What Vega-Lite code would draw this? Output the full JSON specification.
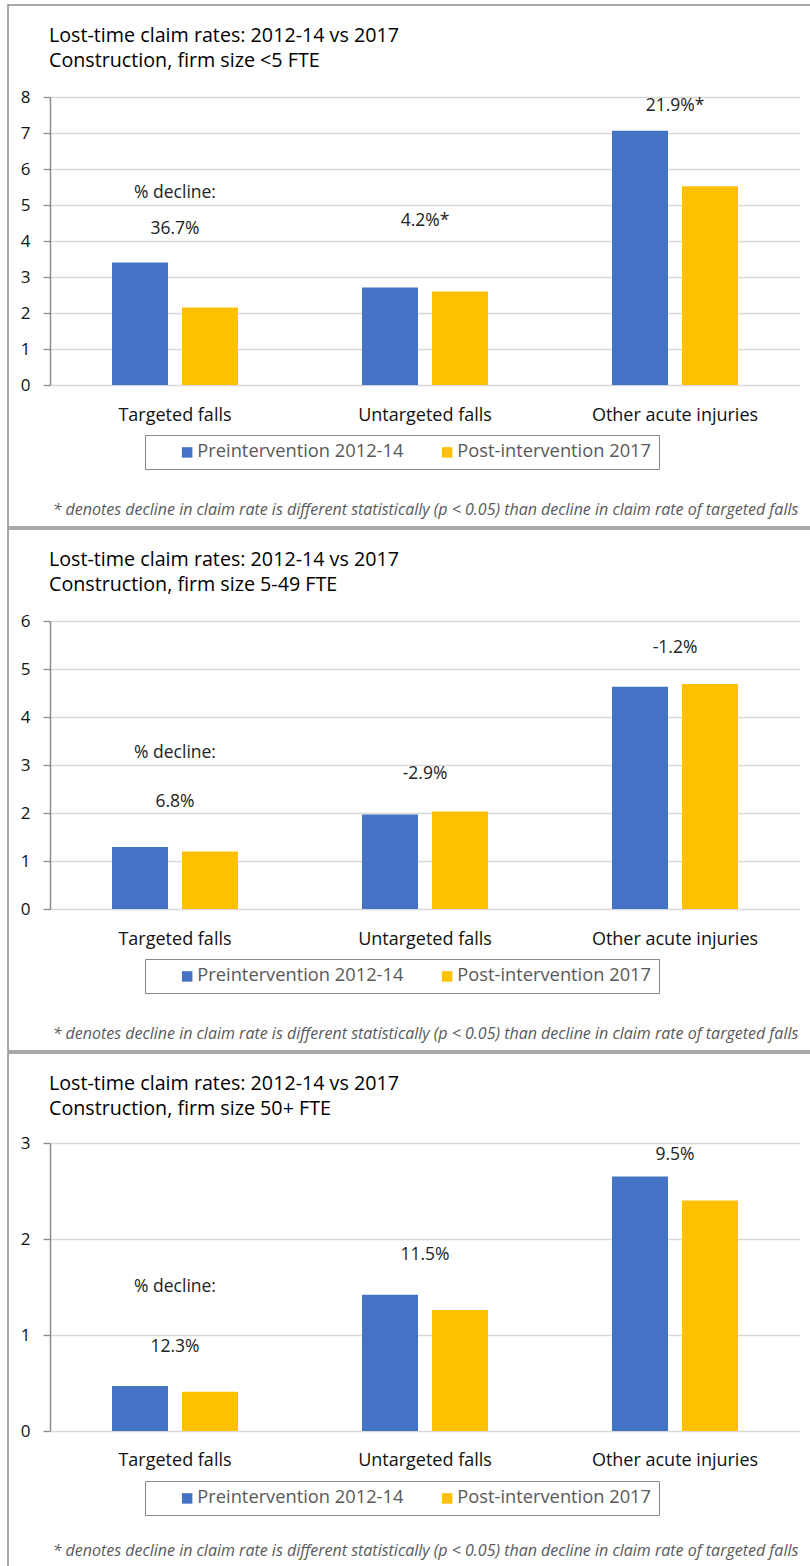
{
  "$schema": "https://vega.github.io/schema/vega-lite/v6.json",
  "background": "white",
  "padding": {"left": 7, "top": 4, "right": 0, "bottom": 0},
  "spacing": 0,
  "config": {
    "view": {"stroke": "#8c8c8c", "strokeWidth": 1.5},
    "axis": {"labelFont": "Open Sans", "titleFont": "Open Sans"},
    "legend": {"labelFont": "Open Sans"},
    "title": {"font": "Open Sans"}
  },
  "datasets": {
    "bars": [
      {"panel": 1, "category": "Targeted falls", "period": "Preintervention 2012-14", "rate": 3.40},
      {"panel": 1, "category": "Targeted falls", "period": "Post-intervention 2017", "rate": 2.15},
      {"panel": 1, "category": "Untargeted falls", "period": "Preintervention 2012-14", "rate": 2.71},
      {"panel": 1, "category": "Untargeted falls", "period": "Post-intervention 2017", "rate": 2.60},
      {"panel": 1, "category": "Other acute injuries", "period": "Preintervention 2012-14", "rate": 7.06},
      {"panel": 1, "category": "Other acute injuries", "period": "Post-intervention 2017", "rate": 5.52},
      {"panel": 2, "category": "Targeted falls", "period": "Preintervention 2012-14", "rate": 1.29},
      {"panel": 2, "category": "Targeted falls", "period": "Post-intervention 2017", "rate": 1.20},
      {"panel": 2, "category": "Untargeted falls", "period": "Preintervention 2012-14", "rate": 1.97},
      {"panel": 2, "category": "Untargeted falls", "period": "Post-intervention 2017", "rate": 2.03},
      {"panel": 2, "category": "Other acute injuries", "period": "Preintervention 2012-14", "rate": 4.63},
      {"panel": 2, "category": "Other acute injuries", "period": "Post-intervention 2017", "rate": 4.69},
      {"panel": 3, "category": "Targeted falls", "period": "Preintervention 2012-14", "rate": 0.47},
      {"panel": 3, "category": "Targeted falls", "period": "Post-intervention 2017", "rate": 0.41},
      {"panel": 3, "category": "Untargeted falls", "period": "Preintervention 2012-14", "rate": 1.42},
      {"panel": 3, "category": "Untargeted falls", "period": "Post-intervention 2017", "rate": 1.26},
      {"panel": 3, "category": "Other acute injuries", "period": "Preintervention 2012-14", "rate": 2.65},
      {"panel": 3, "category": "Other acute injuries", "period": "Post-intervention 2017", "rate": 2.40}
    ],
    "labels": [
      {"panel": 1, "category": "Targeted falls", "label": "% decline:", "rate": 5.34},
      {"panel": 1, "category": "Targeted falls", "label": "36.7%", "rate": 4.33},
      {"panel": 1, "category": "Untargeted falls", "label": "4.2%*", "rate": 4.56},
      {"panel": 1, "category": "Other acute injuries", "label": "21.9%*", "rate": 7.75},
      {"panel": 2, "category": "Targeted falls", "label": "% decline:", "rate": 3.26},
      {"panel": 2, "category": "Targeted falls", "label": "6.8%", "rate": 2.23},
      {"panel": 2, "category": "Untargeted falls", "label": "-2.9%", "rate": 2.81},
      {"panel": 2, "category": "Other acute injuries", "label": "-1.2%", "rate": 5.44},
      {"panel": 3, "category": "Targeted falls", "label": "% decline:", "rate": 1.50},
      {"panel": 3, "category": "Targeted falls", "label": "12.3%", "rate": 0.874},
      {"panel": 3, "category": "Untargeted falls", "label": "11.5%", "rate": 1.83},
      {"panel": 3, "category": "Other acute injuries", "label": "9.5%", "rate": 2.88}
    ]
  },
  "resolve": {
    "scale": {"x": "independent", "y": "independent", "xOffset": "independent", "color": "independent"},
    "axis": {"x": "independent", "y": "independent"},
    "legend": {"color": "independent"}
  },
  "vconcat": [
    {
      "width": 806, "height": 522,
      "title": {"text": ["Lost-time claim rates: 2012-14 vs 2017", "Construction, firm size <5 FTE"], "anchor": "start", "frame": "group", "dx": 41, "offset": -66, "lineHeight": 25, "fontSize": 19.7, "fontWeight": "normal", "color": "#000"},
      "encoding": {
        "x": {"field": "category", "type": "nominal", "title": "* denotes decline in claim rate is different statistically (p < 0.05) than decline in claim rate of targeted falls",
          "scale": {"domain": ["Targeted falls", "Untargeted falls", "Other acute injuries"], "range": [42, 792], "paddingInner": 0, "paddingOuter": 0},
          "axis": {"orient": "bottom", "offset": -143, "domain": false, "ticks": false, "grid": false, "labelAngle": 0, "labelFontSize": 18, "labelColor": "#111", "labelPadding": 22,
            "titleFontSize": 16, "titleFontStyle": "italic", "titleFontWeight": "normal", "titleColor": "#595959", "titlePadding": 77}},
        "y": {"field": "rate", "type": "quantitative", "title": null,
          "scale": {"domain": [0, 8], "range": [380, 92], "nice": false},
          "axis": {"offset": -42, "values": [0, 1, 2, 3, 4, 5, 6, 7, 8], "grid": true, "gridColor": "#d9d9d9", "gridWidth": 1.3, "domain": true, "domainColor": "#8c8c8c", "domainWidth": 1.5, "ticks": true, "tickColor": "#8c8c8c", "tickWidth": 1.3, "tickSize": 7, "labelFontSize": 17, "labelColor": "#111", "labelPadding": 13}}
      },
      "layer": [
        {
          "data": {"name": "bars"},
          "transform": [{"filter": "datum.panel === 1"}],
          "mark": {"type": "bar"},
          "encoding": {
            "xOffset": {"field": "period", "type": "nominal", "scale": {"domain": ["Preintervention 2012-14", "Post-intervention 2017"], "paddingInner": 0.2, "paddingOuter": 0.886}},
            "color": {"field": "period", "type": "nominal",
              "scale": {"domain": ["Preintervention 2012-14", "Post-intervention 2017"], "range": ["#4472C4", "#FFC000"]},
              "legend": {"orient": "none", "legendX": 137, "legendY": 430, "direction": "horizontal", "title": null, "padding": 8, "strokeColor": "#888", "fillColor": "#fff", "symbolType": "square", "symbolSize": 110, "symbolStrokeWidth": 0, "labelFontSize": 18.3, "labelLimit": 400, "labelColor": "#595959", "labelOffset": 1, "columnPadding": 9, "symbolOffset": 25}}
          }
        },
        {
          "data": {"name": "labels"},
          "transform": [{"filter": "datum.panel === 1"}],
          "mark": {"type": "text", "font": "Open Sans", "fontSize": 17.5, "color": "#222", "baseline": "middle", "align": "center"},
          "encoding": {"text": {"field": "label"}}
        }
      ]
    },
    {
      "width": 806, "height": 522,
      "title": {"text": ["Lost-time claim rates: 2012-14 vs 2017", "Construction, firm size 5-49 FTE"], "anchor": "start", "frame": "group", "dx": 41, "offset": -66, "lineHeight": 25, "fontSize": 19.7, "fontWeight": "normal", "color": "#000"},
      "encoding": {
        "x": {"field": "category", "type": "nominal", "title": "* denotes decline in claim rate is different statistically (p < 0.05) than decline in claim rate of targeted falls",
          "scale": {"domain": ["Targeted falls", "Untargeted falls", "Other acute injuries"], "range": [42, 792], "paddingInner": 0, "paddingOuter": 0},
          "axis": {"orient": "bottom", "offset": -143, "domain": false, "ticks": false, "grid": false, "labelAngle": 0, "labelFontSize": 18, "labelColor": "#111", "labelPadding": 22,
            "titleFontSize": 16, "titleFontStyle": "italic", "titleFontWeight": "normal", "titleColor": "#595959", "titlePadding": 77}},
        "y": {"field": "rate", "type": "quantitative", "title": null,
          "scale": {"domain": [0, 6], "range": [380, 92], "nice": false},
          "axis": {"offset": -42, "values": [0, 1, 2, 3, 4, 5, 6], "grid": true, "gridColor": "#d9d9d9", "gridWidth": 1.3, "domain": true, "domainColor": "#8c8c8c", "domainWidth": 1.5, "ticks": true, "tickColor": "#8c8c8c", "tickWidth": 1.3, "tickSize": 7, "labelFontSize": 17, "labelColor": "#111", "labelPadding": 13}}
      },
      "layer": [
        {
          "data": {"name": "bars"},
          "transform": [{"filter": "datum.panel === 2"}],
          "mark": {"type": "bar"},
          "encoding": {
            "xOffset": {"field": "period", "type": "nominal", "scale": {"domain": ["Preintervention 2012-14", "Post-intervention 2017"], "paddingInner": 0.2, "paddingOuter": 0.886}},
            "color": {"field": "period", "type": "nominal",
              "scale": {"domain": ["Preintervention 2012-14", "Post-intervention 2017"], "range": ["#4472C4", "#FFC000"]},
              "legend": {"orient": "none", "legendX": 137, "legendY": 430, "direction": "horizontal", "title": null, "padding": 8, "strokeColor": "#888", "fillColor": "#fff", "symbolType": "square", "symbolSize": 110, "symbolStrokeWidth": 0, "labelFontSize": 18.3, "labelLimit": 400, "labelColor": "#595959", "labelOffset": 1, "columnPadding": 9, "symbolOffset": 25}}
          }
        },
        {
          "data": {"name": "labels"},
          "transform": [{"filter": "datum.panel === 2"}],
          "mark": {"type": "text", "font": "Open Sans", "fontSize": 17.5, "color": "#222", "baseline": "middle", "align": "center"},
          "encoding": {"text": {"field": "label"}}
        }
      ]
    },
    {
      "width": 806, "height": 522,
      "title": {"text": ["Lost-time claim rates: 2012-14 vs 2017", "Construction, firm size 50+ FTE"], "anchor": "start", "frame": "group", "dx": 41, "offset": -66, "lineHeight": 25, "fontSize": 19.7, "fontWeight": "normal", "color": "#000"},
      "encoding": {
        "x": {"field": "category", "type": "nominal", "title": "* denotes decline in claim rate is different statistically (p < 0.05) than decline in claim rate of targeted falls",
          "scale": {"domain": ["Targeted falls", "Untargeted falls", "Other acute injuries"], "range": [42, 792], "paddingInner": 0, "paddingOuter": 0},
          "axis": {"orient": "bottom", "offset": -144, "domain": false, "ticks": false, "grid": false, "labelAngle": 0, "labelFontSize": 18, "labelColor": "#111", "labelPadding": 20,
            "titleFontSize": 16, "titleFontStyle": "italic", "titleFontWeight": "normal", "titleColor": "#595959", "titlePadding": 73}},
        "y": {"field": "rate", "type": "quantitative", "title": null,
          "scale": {"domain": [0, 3], "range": [378, 90], "nice": false},
          "axis": {"offset": -42, "values": [0, 1, 2, 3], "grid": true, "gridColor": "#d9d9d9", "gridWidth": 1.3, "domain": true, "domainColor": "#8c8c8c", "domainWidth": 1.5, "ticks": true, "tickColor": "#8c8c8c", "tickWidth": 1.3, "tickSize": 7, "labelFontSize": 17, "labelColor": "#111", "labelPadding": 13}}
      },
      "layer": [
        {
          "data": {"name": "bars"},
          "transform": [{"filter": "datum.panel === 3"}],
          "mark": {"type": "bar"},
          "encoding": {
            "xOffset": {"field": "period", "type": "nominal", "scale": {"domain": ["Preintervention 2012-14", "Post-intervention 2017"], "paddingInner": 0.2, "paddingOuter": 0.886}},
            "color": {"field": "period", "type": "nominal",
              "scale": {"domain": ["Preintervention 2012-14", "Post-intervention 2017"], "range": ["#4472C4", "#FFC000"]},
              "legend": {"orient": "none", "legendX": 137, "legendY": 428, "direction": "horizontal", "title": null, "padding": 8, "strokeColor": "#888", "fillColor": "#fff", "symbolType": "square", "symbolSize": 110, "symbolStrokeWidth": 0, "labelFontSize": 18.3, "labelLimit": 400, "labelColor": "#595959", "labelOffset": 1, "columnPadding": 9, "symbolOffset": 25}}
          }
        },
        {
          "data": {"name": "labels"},
          "transform": [{"filter": "datum.panel === 3"}],
          "mark": {"type": "text", "font": "Open Sans", "fontSize": 17.5, "color": "#222", "baseline": "middle", "align": "center"},
          "encoding": {"text": {"field": "label"}}
        }
      ]
    }
  ]
}
